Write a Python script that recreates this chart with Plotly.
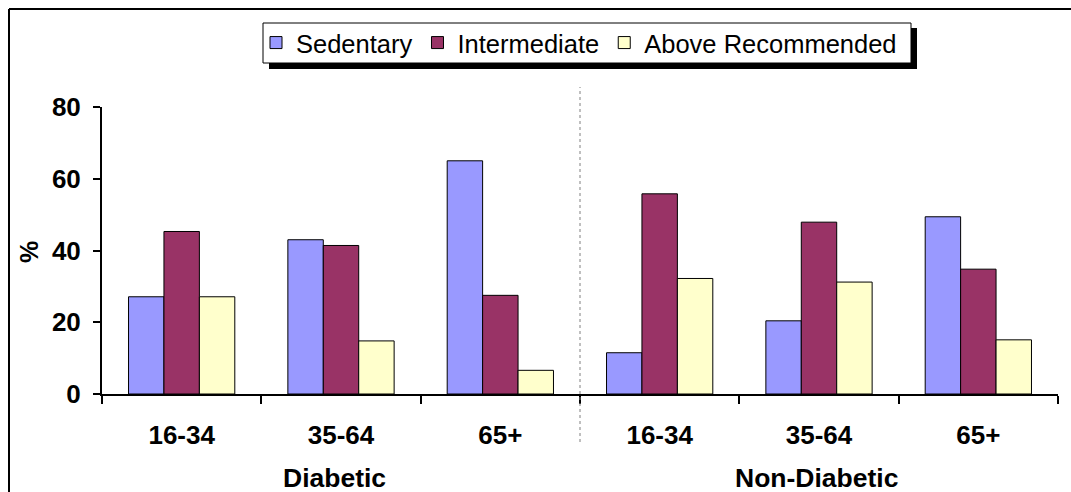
import plotly.graph_objects as go

groups = ["Diabetic", "Diabetic", "Diabetic", "Non-Diabetic", "Non-Diabetic", "Non-Diabetic"]
ages = ["16-34", "35-64", "65+", "16-34", "35-64", "65+"]
categories = [g + " " + a for g, a in zip(groups, ages)]

sedentary = [27.1, 43.0, 65.0, 11.5, 20.4, 49.4]
intermediate = [45.3, 41.4, 27.5, 55.8, 47.9, 34.8]
above_recommended = [27.1, 14.8, 6.6, 32.2, 31.2, 15.1]

series_names = ["Sedentary", "Intermediate", "Above Recommended"]
series_colors = ["#9999FF", "#993366", "#FFFFCC"]
y_ticks = [0, 20, 40, 60, 80]

FONT = "Arial, Liberation Sans, sans-serif"
W, H = 1071, 492
ML, MR, MT, MB = 102, 13, 107, 98
PW, PH = W - ML - MR, H - MT - MB

def px_to_paper_x(px):
    return (px - ML) / PW

def px_to_paper_y(py):
    return (H - MB - py) / PH

fig = go.Figure()
for name, vals, col in zip(series_names, [sedentary, intermediate, above_recommended], series_colors):
    fig.add_trace(go.Bar(
        x=categories, y=vals, name=name,
        marker=dict(color=col, line=dict(color="#000000", width=1)),
    ))

fig.update_layout(
    width=W, height=H,
    margin=dict(l=ML, r=MR, t=MT, b=MB, pad=0),
    paper_bgcolor="white", plot_bgcolor="white",
    barmode="group", bargap=0.333, bargroupgap=0,
    font=dict(family=FONT, color="black"),
    showlegend=True,
    legend=dict(
        orientation="h",
        x=px_to_paper_x(256), xanchor="left",
        y=px_to_paper_y(43), yanchor="middle",
        bgcolor="rgba(0,0,0,0)", borderwidth=0,
        font=dict(family=FONT, size=25.5, color="black"),
        itemwidth=30, tracegroupgap=0,
    ),
    xaxis=dict(
        type="category",
        tickmode="array", tickvals=categories, ticktext=ages,
        tickson="boundaries",
        ticks="outside", ticklen=8, tickwidth=2, tickcolor="black",
        showline=True, linecolor="black", linewidth=2,
        showgrid=False, zeroline=False,
        tickfont=dict(family=FONT, size=26, color="black", weight="bold"),
        ticklabelstandoff=17,
    ),
    yaxis=dict(
        range=[0, 80], tickvals=y_ticks,
        ticks="outside", ticklen=7, tickwidth=2, tickcolor="black",
        showline=True, linecolor="black", linewidth=2,
        showgrid=False, zeroline=False,
        tickfont=dict(family=FONT, size=26, color="black", weight="bold"),
        ticklabelstandoff=7,
    ),
)

# legend shadow and box
fig.add_shape(type="rect", xref="paper", yref="paper",
              x0=px_to_paper_x(269), x1=px_to_paper_x(917),
              y0=px_to_paper_y(69), y1=px_to_paper_y(28),
              fillcolor="black", line=dict(width=0), layer="above")
fig.add_shape(type="rect", xref="paper", yref="paper",
              x0=px_to_paper_x(263), x1=px_to_paper_x(911),
              y0=px_to_paper_y(63), y1=px_to_paper_y(23),
              fillcolor="white", line=dict(color="black", width=1), layer="above")

# dotted separator between groups
fig.add_shape(type="line", xref="paper", yref="paper",
              x0=0.5, x1=0.5, y0=px_to_paper_y(442), y1=px_to_paper_y(87),
              line=dict(color="#808080", width=1, dash="dot"))

# outer frame (top and left edges visible)
fig.add_shape(type="line", xref="paper", yref="paper",
              x0=px_to_paper_x(9), x1=px_to_paper_x(W + 5),
              y0=px_to_paper_y(9), y1=px_to_paper_y(9),
              line=dict(color="black", width=2))
fig.add_shape(type="line", xref="paper", yref="paper",
              x0=px_to_paper_x(9), x1=px_to_paper_x(9),
              y0=px_to_paper_y(9), y1=px_to_paper_y(H + 5),
              line=dict(color="black", width=2))

# group labels
for label, cx in [("Diabetic", 334), ("Non-Diabetic", 816)]:
    fig.add_annotation(text=label, xref="paper", yref="paper",
                       x=px_to_paper_x(cx), y=px_to_paper_y(478),
                       xanchor="center", yanchor="middle", showarrow=False,
                       font=dict(family=FONT, size=26.5, color="black", weight="bold"))

# y-axis title
fig.add_annotation(text="%", xref="paper", yref="paper",
                   x=px_to_paper_x(29), y=px_to_paper_y(252),
                   xanchor="center", yanchor="middle", showarrow=False, textangle=-90,
                   font=dict(family=FONT, size=25, color="black", weight="bold"))

fig.write_html("out.html")
